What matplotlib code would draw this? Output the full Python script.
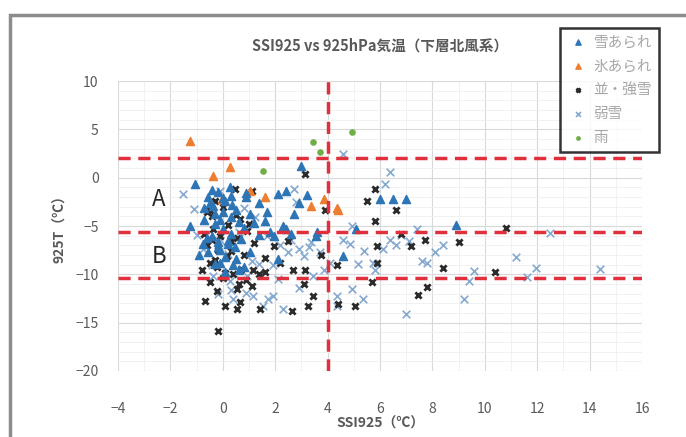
import matplotlib
matplotlib.use('Agg')
import matplotlib.pyplot as plt
from matplotlib.patches import Rectangle
from matplotlib.ticker import MultipleLocator

plt.rcParams['font.family'] = ['Noto Sans CJK JP', 'DejaVu Sans']

# 雪あられ
graupel_x = [3.0, 6.0, 6.5, 7.0, 5.1, 8.9, 4.6, -1.05, 0.28, 2.1, 2.4, 2.7, -0.55, -0.37, 0.35,
             1.05, -1.25, 0.3, 0.0, 2.3, 2.4, 1.8, 3.6, -0.75, -0.2, -0.1, -0.55, 0.47, 1.05, 1.95,
             3.55, 0.08, 0.8, 2.1, -0.3, 0.1, -0.7, 0.7, -0.4, 1.4, -0.1, 0.5, -0.9, 1.7, 2.9, 0.2,
             0.9, -0.2,
             -0.5, -0.3, 0.0, 0.3, 0.6, -0.6, -0.2, 0.1, 0.4, 0.8, 1.2, -0.4, 0.0, 0.5, -0.1,
             0.2, -0.7, 0.9, 1.4, 0.6, -0.3, 0.3, 1.6, 2.6, 3.2]
graupel_y = [1.2, -2.2, -2.2, -2.2, -5.3, -4.9, -8.1, -0.7, -1.0, -1.7, -1.4, -3.8, -2.0, -2.9, -2.8,
             -3.8, -5.0, -4.1, -5.3, -5.0, -5.3, -5.6, -5.6, -6.9, -6.7, -8.8, -7.7, -7.2, -7.7, -6.0,
             -6.0, -9.8, -9.2, -8.4, -3.8, -2.4, -4.4, -6.3, -6.0, -2.6, -7.5, -8.4, -8.0, -3.5, -2.6, -6.6,
             -2.0, -1.5,
             -2.6, -4.8, -3.6, -5.8, -4.6, -6.2, -7.2, -8.2, -9.0, -5.2, -4.7, -1.3, -2.1, -3.3, -4.4,
             -6.9, -3.1, -1.6, -5.9, -9.6, -8.9, -1.9, -4.5, -5.8, -1.8]

# 氷あられ
hail_x = [-1.25, 0.28, -0.37, 1.05, 1.6, 3.35, 3.85, 4.35, -0.03, 4.4]
hail_y = [3.8, 1.1, 0.15, -1.4, -2.0, -2.9, -2.2, -3.1, -2.2, -3.3]

# 並・強雪
heavy_x = [3.15, 5.8, 5.5, 6.6, 5.8, 9.0, 10.8, 6.8, 7.7, 7.2, 5.9, 8.4, 10.4, 5.7, 5.9,
           7.8, 7.45, 5.05, 4.4, 4.35, 0.47, 1.1, 3.9, -0.5, 0.66, -0.37, -0.6, -0.5, -0.22, 0.55,
           -0.68, 0.08, 0.55, 0.66, 1.42, 2.65, -0.18, 1.12, 3.25, 3.45, 1.15, 1.95, 2.68, 3.13, 2.2,
           0.55, 0.93, 0.16, -0.22, 1.62, -0.4, 0.0, -0.1, -0.6, 0.3, 1.2, 0.8, -0.3, 0.4, 0.9,
           2.5, 1.6, -0.8, 3.75, 3.1, -0.7,
           -0.3, 0.2, 0.5, -0.5, 0.1, 0.7, -0.2, 0.3, 1.0, -0.4, 0.6, 0.0, 1.4]
heavy_y = [0.35, -1.2, -2.4, -3.3, -4.5, -6.7, -5.2, -5.85, -6.4, -7.1, -7.1, -9.3, -9.8, -10.8, -8.8,
           -11.3, -12.1, -13.3, -13.1, -9.0, -1.2, -1.4, -3.3, -3.3, -4.3, -5.3, -3.6, -10.8, -11.7, -11.5,
           -12.8, -13.3, -13.6, -12.9, -13.6, -13.8, -15.9, -11.2, -13.3, -12.2, -9.5, -7.1, -9.5, -9.5, -8.8,
           -6.2, -5.5, -8.1, -9.2, -9.8, -4.0, -3.0, -6.0, -7.0, -7.6, -6.8, -8.0, -8.5, -10.0, -10.6,
           -6.6, -8.3, -9.6, -8.0, -11.0, -5.8,
           -2.4, -4.9, -3.9, -8.8, -9.9, -9.4, -7.5, -6.5, -4.8, -6.4, -11.0, -10.4, -10.0]

# 弱雪
light_x = [4.6, 6.4, 6.2, 4.95, 12.5, 7.4, 7.1, 6.4, 6.1, 8.1, 7.8, 11.2, 11.95, 14.4, 9.6,
           11.6, 9.4, 5.15, 5.75, 4.85, 4.6, 4.95, 4.35, 9.2, 7.0, -1.52, -0.1, 2.7, 2.8, 0.8,
           1.23, 1.54, 2.3, 1.93, 1.72, 2.9, 3.1, 2.5, 3.35, 2.6, 3.7, 3.85, 3.45, 1.15, 0.4,
           -0.75, -0.37, 0.93, 4.35, 4.1, -0.1, 0.28, 6.8, 5.4, 6.6, 2.1, 3.3, 1.9, 1.4, -1.0,
           -1.1, 7.6, 8.4, 5.8, 5.35, 2.9, -0.2,
           0.2, 0.6, -0.4, 1.1, 0.3, 1.7, 2.2, 0.9]
light_y = [2.4, 0.56, -0.7, -5.0, -5.7, -5.3, -6.6, -6.4, -7.4, -7.7, -8.8, -8.2, -9.3, -9.4, -9.7,
           -10.3, -10.7, -8.9, -8.8, -6.9, -6.4, -11.5, -12.2, -12.6, -14.1, -1.7, -1.4, -1.2, -2.5, -3.1,
           -4.1, -13.3, -13.6, -12.2, -12.6, -7.4, -8.1, -7.7, -6.7, -6.4, -7.7, -9.5, -10.2, -12.2, -12.6,
           -7.4, -10.2, -10.2, -13.3, -8.8, -6.4, -10.7, -5.9, -7.6, -7.0, -10.5, -7.2, -9.0, -8.9, -5.9,
           -3.2, -8.6, -7.0, -9.6, -12.6, -11.4, -12.0,
           -7.9, -5.6, -9.0, -8.6, -11.6, -6.0, -7.0, -11.9]

# 雨
rain_x = [3.45, 3.7, 4.95, 1.55]
rain_y = [3.7, 2.7, 4.7, 0.66]

ssi_line = 4
t_lines = [2, -5.6, -10.4]

W, H = 686, 437
fig = plt.figure(figsize=(W / 100, H / 100), dpi=100)
fig.patch.set_facecolor('white')

# chart area border (cropped on right/bottom)
fig.patches.append(Rectangle((10 / W, -0.2), 1.2, 1 - 15 / H + 0.2, transform=fig.transFigure,
                             fill=False, edgecolor='#8c8c8c', lw=2.5, clip_on=False))

ax = fig.add_axes([118 / W, 1 - 371 / H, (642 - 118) / W, (371 - 81) / H])
ax.set_xlim(-4, 16)
ax.set_ylim(-20, 10)
ax.xaxis.set_major_locator(MultipleLocator(2))
ax.xaxis.set_minor_locator(MultipleLocator(1))
ax.yaxis.set_major_locator(MultipleLocator(5))
ax.yaxis.set_minor_locator(MultipleLocator(1))
ax.grid(which='major', color='#d9d9d9', lw=0.8)
ax.grid(which='minor', color='#efefef', lw=0.6)
ax.set_axisbelow(True)
for sp in ax.spines.values():
    sp.set_visible(False)
ax.tick_params(which='both', length=0, labelsize=10, labelcolor='#595959')
ax.tick_params(axis='x', pad=22)
ax.tick_params(axis='y', pad=14)

ax.scatter(light_x, light_y, marker='x', s=30, color='#86a9cf', linewidths=1.2, label='弱雪', zorder=3)
ax.scatter(heavy_x, heavy_y, marker='x', s=20, color='#2b2b2b', linewidths=2.0, label='並・強雪', zorder=4)
ax.scatter(hail_x, hail_y, marker='^', s=34, color='#ed7d31', label='氷あられ', zorder=5)
ax.scatter(graupel_x, graupel_y, marker='^', s=34, color='#2e75b6', label='雪あられ', zorder=5)
ax.scatter(rain_x, rain_y, marker='o', s=14, color='#70ad47', label='雨', zorder=5)

red = '#e0303c'
for yv in t_lines:
    ax.axhline(yv, color=red, lw=2.5, dashes=(3.5, 2.2), zorder=6)
ax.axvline(ssi_line, color=red, lw=2.5, dashes=(3.5, 2.2), zorder=6)

ax.text(-2.45, -2.3, 'A', fontsize=16, color='#262626', ha='center', va='center', zorder=7)
ax.text(-2.45, -8.2, 'B', fontsize=16, color='#262626', ha='center', va='center', zorder=7)

ax.set_title('SSI925 vs 925hPa気温（下層北風系）', fontsize=10.5, color='#595959',
             fontweight='bold', pad=22)
ax.set_xlabel('SSI925（℃）', fontsize=10, color='#595959', fontweight='bold', labelpad=1)
ax.set_ylabel('925T（℃）', fontsize=10, color='#595959', fontweight='bold', labelpad=6)

handles, labels = ax.get_legend_handles_labels()
order = ['雪あられ', '氷あられ', '並・強雪', '弱雪', '雨']
hmap = dict(zip(labels, handles))
leg = fig.legend([hmap[k] for k in order], order, loc='upper left',
                 bbox_to_anchor=(560 / W, 1 - 28 / H), fontsize=10.5, frameon=True,
                 fancybox=False, handletextpad=0.3, handlelength=1.5, markerscale=0.65,
                 labelspacing=0.68, borderpad=0.5, borderaxespad=0)
leg.get_frame().set_edgecolor('black')
leg.get_frame().set_linewidth(1.8)
for t in leg.get_texts():
    t.set_color('#a6a6a6')

fig.savefig('out.png', dpi=100, facecolor='white')
